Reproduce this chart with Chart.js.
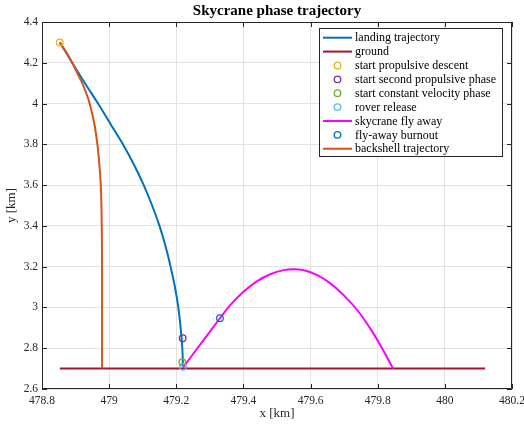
<!DOCTYPE html>
<html><head><meta charset="utf-8">
<script src="https://cdn.jsdelivr.net/npm/chart.js@4/dist/chart.umd.min.js"></script>
<style>html,body{margin:0;padding:0;background:#fff;}#wrap{width:524px;height:427px;}</style>
</head><body><div id="wrap"><canvas id="c" width="524" height="427"></canvas></div>
<script>
const landingX = [478.853,478.890,478.928,478.967,479.004,479.041,479.074,479.103,479.128,479.150,479.168,479.183,479.196,479.206,479.213,479.218,479.220];
const landingY = [4.300,4.200,4.100,4.000,3.900,3.800,3.700,3.600,3.500,3.400,3.300,3.200,3.100,3.000,2.900,2.800,2.709];
const groundX = [478.853,480.120];
const groundY = [2.700,2.700];
const skycraneX = [479.220,479.275,479.330,479.360,479.400,479.440,479.480,479.520,479.550,479.580,479.620,479.660,479.700,479.740,479.780,479.810,479.846];
const skycraneY = [2.705,2.826,2.947,3.010,3.077,3.128,3.163,3.183,3.187,3.182,3.159,3.117,3.058,2.985,2.891,2.808,2.700];
const backshellX = [478.853,478.873,478.890,478.905,478.920,478.932,478.942,478.956,478.965,478.971,478.975,478.977,478.978,478.979,478.979];
const backshellY = [4.300,4.250,4.200,4.150,4.100,4.050,4.000,3.900,3.800,3.700,3.600,3.500,3.400,3.200,2.700];
const markerNames = ['start propulsive descent','start second propulsive phase','start constant velocity phase','rover release','fly-away burnout'];
const markerX = [478.853,479.219,479.218,479.220,479.330];
const markerY = [4.300,2.849,2.731,2.709,2.947];
const xTicks = [478.8,479,479.2,479.4,479.6,479.8,480,480.2];
const xTickLabels = ['478.8','479','479.2','479.4','479.6','479.8','480','480.2'];
const yTicks = [2.6,2.8,3,3.2,3.4,3.6,3.8,4,4.2,4.4];
const yTickLabels = ['2.6','2.8','3','3.2','3.4','3.6','3.8','4','4.2','4.4'];

const pts = (xs, ys) => xs.map((x,i)=>({x:x, y:ys[i]}));
const FONT = '"Liberation Serif", "DejaVu Serif", serif';
const AX = '#262626';

const lineDs = (label, xs, ys, color, order, tension) => ({type:'line', label, data:pts(xs,ys), borderColor:color, backgroundColor:color, borderWidth:2, pointRadius:0, fill:false, tension:tension, order, kind:'line'});
const mkDs = (i, color, order) => ({type:'scatter', label:markerNames[i], data:[{x:markerX[i], y:markerY[i]}], borderColor:color, backgroundColor:'rgba(0,0,0,0)', pointRadius:3.3, pointBorderWidth:1.3, showLine:false, order, kind:'marker'});

const datasets = [
  lineDs('landing trajectory', landingX, landingY, '#0072BD', 9, 0.3),
  lineDs('ground', groundX, groundY, '#A2142F', 8, 0),
  mkDs(0, '#EDB120', 2),
  mkDs(1, '#7E2F8E', 3),
  mkDs(2, '#77AC30', 4),
  mkDs(3, '#4DBEEE', 5),
  lineDs('skycrane fly away', skycraneX, skycraneY, '#FF00FF', 7, 0.3),
  mkDs(4, '#0072BD', 1),
  lineDs('backshell trajectory', backshellX, backshellY, '#D95319', 6, 0.3)
];

const decor = {
  id:'decor',
  afterDraw(chart){
    const ctx = chart.ctx, a = chart.chartArea;
    const xs = chart.scales.x, ys = chart.scales.y;
    ctx.save();
    ctx.strokeStyle = AX; ctx.lineWidth = 1;
    ctx.beginPath();
    ctx.rect(a.left+0.5, a.top+0.5, a.right-a.left-1, a.bottom-a.top-1);
    ctx.stroke();
    ctx.beginPath();
    xTicks.forEach(v=>{ const p = Math.round(xs.getPixelForValue(v))+0.5; ctx.moveTo(p,a.bottom); ctx.lineTo(p,a.bottom-5); ctx.moveTo(p,a.top); ctx.lineTo(p,a.top+5); });
    yTicks.forEach(v=>{ const p = Math.round(ys.getPixelForValue(v))+0.5; ctx.moveTo(a.left,p); ctx.lineTo(a.left+5,p); ctx.moveTo(a.right,p); ctx.lineTo(a.right-5,p); });
    ctx.stroke();
    // titles
    ctx.fillStyle = '#000';
    ctx.font = 'bold 15px ' + FONT;
    ctx.textAlign = 'center'; ctx.textBaseline = 'middle';
    ctx.fillText('Skycrane phase trajectory', (a.left+a.right)/2, 11);
    ctx.fillStyle = AX;
    ctx.font = '13px ' + FONT;
    ctx.fillText('x [km]', (a.left+a.right)/2, 414);
    ctx.save(); ctx.translate(12, (a.top+a.bottom)/2); ctx.rotate(-Math.PI/2);
    ctx.fillText('y [km]', 0, 0); ctx.restore();
    // legend
    const L = 319, T = 28, R = 503, B = 157;
    ctx.fillStyle = '#fff'; ctx.fillRect(L, T, R-L, B-T);
    ctx.strokeStyle = AX; ctx.lineWidth = 1; ctx.strokeRect(L+0.5, T+0.5, R-L-1, B-T-1);
    ctx.font = '12px ' + FONT; ctx.textAlign = 'left'; ctx.textBaseline = 'middle';
    datasets.forEach((d,i)=>{
      const y = 37.7 + i*13.88;
      if (d.kind === 'line') {
        ctx.strokeStyle = d.borderColor; ctx.lineWidth = 2;
        ctx.beginPath(); ctx.moveTo(323, y); ctx.lineTo(352, y); ctx.stroke();
      } else {
        ctx.strokeStyle = d.borderColor; ctx.lineWidth = 1.3;
        ctx.beginPath(); ctx.arc(337.5, y, 3.3, 0, Math.PI*2); ctx.stroke();
      }
      ctx.fillStyle = '#000';
      ctx.fillText(d.label, 355, y+0.5);
    });
    ctx.restore();
  }
};

new Chart(document.getElementById('c'), {
  type:'scatter',
  data:{datasets},
  options:{
    responsive:false, animation:false, devicePixelRatio:1,
    layout:{padding:{left:0, top:22, right:0, bottom:0}},
    plugins:{legend:{display:false}, tooltip:{enabled:false}, title:{display:false}},
    scales:{
      x:{type:'linear', min:478.8, max:480.2,
        afterBuildTicks(s){ s.ticks = xTicks.map(v=>({value:v})); },
        afterFit(s){ s.height = 38; s.paddingRight = 12; },
        grid:{color:'#e3e3e3', lineWidth:1, drawTicks:false},
        border:{display:false},
        ticks:{padding:5, color:AX, font:{family:FONT, size:11.5}, maxRotation:0, autoSkip:false,
          callback:(v)=>{ const i = xTicks.findIndex(t=>Math.abs(t-v)<1e-6); return i>=0 ? xTickLabels[i] : ''; }}
      },
      y:{type:'linear', min:2.6, max:4.4,
        afterBuildTicks(s){ s.ticks = yTicks.map(v=>({value:v})); },
        afterFit(s){ s.width = 42; },
        grid:{color:'#e3e3e3', lineWidth:1, drawTicks:false},
        border:{display:false},
        ticks:{padding:4, color:AX, font:{family:FONT, size:11.5}, autoSkip:false,
          callback:(v)=>{ const i = yTicks.findIndex(t=>Math.abs(t-v)<1e-6); return i>=0 ? yTickLabels[i] : ''; }}
      }
    }
  },
  plugins:[decor]
});
</script></body></html>
